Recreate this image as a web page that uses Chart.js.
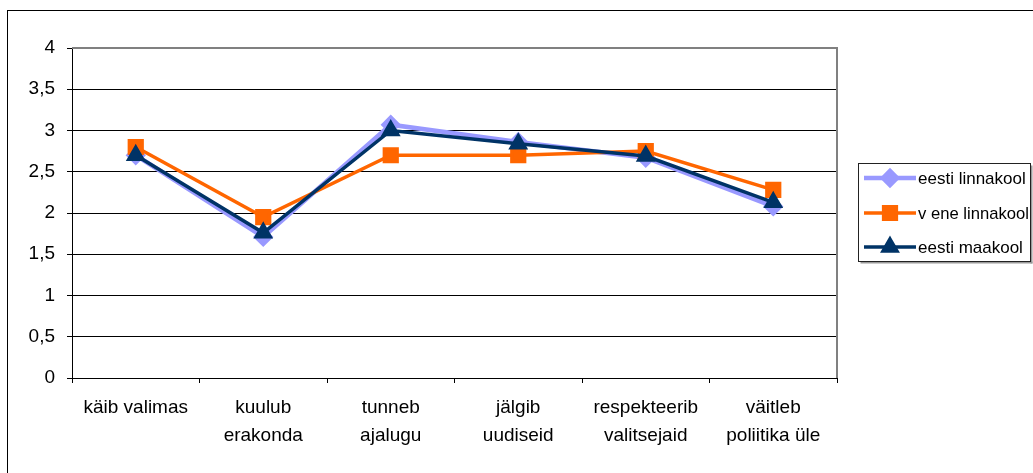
<!DOCTYPE html>
<html>
<head>
<meta charset="utf-8">
<script src="https://cdn.jsdelivr.net/npm/chart.js@4"></script>
<style>
  html, body { margin: 0; padding: 0; background: #fff; }
  #wrap { width: 1033px; height: 473px; position: relative; }
</style>
</head>
<body>
<div id="wrap"><canvas id="c" width="1033" height="473"></canvas></div>
<script>
const categories = [
  ['käib valimas'],
  ['kuulub', 'erakonda'],
  ['tunneb', 'ajalugu'],
  ['jälgib', 'uudiseid'],
  ['respekteerib', 'valitsejaid'],
  ['väitleb', 'poliitika üle']
];
const seriesNames = ['eesti linnakool', 'v ene linnakool', 'eesti maakool'];
const eestiLinnakool = [2.70, 1.71, 3.07, 2.86, 2.67, 2.08];
const veneLinnakool  = [2.80, 1.95, 2.70, 2.70, 2.75, 2.28];
const eestiMaakool   = [2.70, 1.76, 3.00, 2.84, 2.69, 2.13];
const yTicks = [0, 0.5, 1, 1.5, 2, 2.5, 3, 3.5, 4];

const FONT = "'Liberation Sans', Arial, sans-serif";

const framePlugin = {
  id: 'frame',
  beforeDraw(chart) {
    const ctx = chart.ctx;
    ctx.save();
    ctx.fillStyle = '#fff';
    ctx.fillRect(0, 0, chart.width, chart.height);
    ctx.strokeStyle = '#000';
    ctx.lineWidth = 1;
    ctx.strokeRect(7.5, 10.5, 2000, 2000);
    ctx.restore();
  },
  beforeDatasetsDraw(chart) {
    const ctx = chart.ctx, a = chart.chartArea;
    ctx.save();
    ctx.strokeStyle = '#808080';
    ctx.lineWidth = 2;
    ctx.beginPath();
    ctx.moveTo(a.left, a.top);
    ctx.lineTo(a.right, a.top);
    ctx.lineTo(a.right, a.bottom);
    ctx.stroke();
    ctx.restore();
  },
  afterDraw(chart) {
    const ctx = chart.ctx;
    const bx = 858.5, by = 163.5, bw = 172, bh = 98;
    ctx.save();
    ctx.fillStyle = '#9a9a9a';
    ctx.fillRect(bx + 2, by + bh, bw, 2);
    ctx.fillRect(bx + bw, by + 2, 2, bh);
    ctx.fillStyle = '#fff';
    ctx.fillRect(bx, by, bw, bh);
    ctx.strokeStyle = '#222';
    ctx.lineWidth = 1;
    ctx.strokeRect(bx, by, bw, bh);
    const rows = [178, 213, 247];
    chart.data.datasets.forEach((ds, i) => {
      const y = rows[i];
      ctx.strokeStyle = ds.borderColor;
      ctx.lineWidth = ds.borderWidth;
      ctx.beginPath();
      ctx.moveTo(864, y);
      ctx.lineTo(916, y);
      ctx.stroke();
      ctx.fillStyle = ds.pointBackgroundColor;
      ctx.strokeStyle = ds.pointBorderColor;
      Chart.helpers.drawPoint(ctx, {
        pointStyle: ds.pointStyle, radius: ds.pointRadius, rotation: 0,
        borderWidth: 1
      }, 890, y);
      ctx.fillStyle = '#000';
      ctx.font = '17px ' + FONT;
      ctx.textBaseline = 'middle';
      ctx.textAlign = 'left';
      ctx.fillText(ds.label, 918, y + 1, 111);
    });
    ctx.restore();
  }
};

function mk(label, data, color, style, radius, order, width) {
  return {
    label, data,
    borderColor: color, backgroundColor: color,
    pointBackgroundColor: color, pointBorderColor: color,
    borderWidth: width, pointStyle: style, pointRadius: radius,
    pointHoverRadius: radius, tension: 0, order, fill: false
  };
}

new Chart(document.getElementById('c'), {
  type: 'line',
  data: {
    labels: categories,
    datasets: [
      mk(seriesNames[0], eestiLinnakool, '#9999FF', 'rectRot', 7, 3, 4.5),
      mk(seriesNames[1], veneLinnakool, '#FF6600', 'rect', 9, 2, 3.5),
      mk(seriesNames[2], eestiMaakool, '#003366', 'triangle', 8, 1, 3.5)
    ]
  },
  options: {
    responsive: false,
    animation: false,
    devicePixelRatio: 1,
    layout: { padding: { top: 48, right: 196, left: 0, bottom: 0 } },
    plugins: { legend: { display: false }, tooltip: { enabled: false } },
    scales: {
      x: {
        offset: true,
        grid: { offset: true, drawOnChartArea: false, drawTicks: true, tickLength: 5, color: '#000' },
        border: { color: '#000', width: 1 },
        ticks: { color: '#000', font: { family: FONT, size: 19, lineHeight: 1.47 }, padding: 11, maxRotation: 0, autoSkip: false },
        afterFit(s) { s.height = 95; }
      },
      y: {
        min: 0, max: 4,
        afterBuildTicks(s) { s.ticks = yTicks.map(v => ({ value: v })); },
        grid: { color: '#000', tickLength: 5, drawTicks: true },
        border: { color: '#000', width: 1 },
        ticks: {
          color: '#000', font: { family: FONT, size: 19 }, padding: 12,
          callback: v => String(v).replace('.', ',')
        },
        afterFit(s) { s.width = 72; }
      }
    }
  },
  plugins: [framePlugin]
});
</script>
</body>
</html>
